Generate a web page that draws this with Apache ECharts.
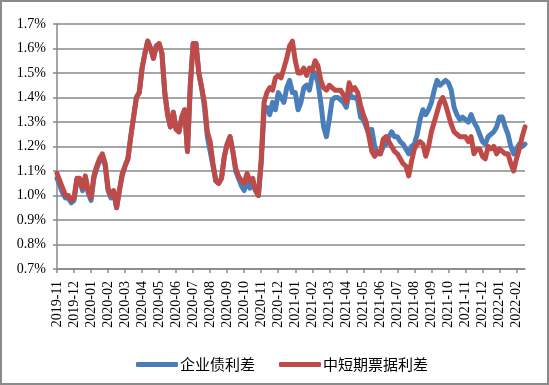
<!DOCTYPE html>
<html>
<head>
<meta charset="utf-8">
<script src="https://cdn.jsdelivr.net/npm/echarts@6/dist/echarts.min.js"></script>
<style>
html,body{margin:0;padding:0;background:#fff;}
#c{width:549px;height:385px;}
</style>
</head>
<body>
<div id="c"></div>
<script>
// Month tick labels (one label every 6 sampled points)
var months = ['2019-11','2019-12','2020-01','2020-02','2020-03','2020-04','2020-05','2020-06','2020-07','2020-08','2020-09','2020-10','2020-11','2020-12','2021-01','2021-02','2021-03','2021-04','2021-05','2021-06','2021-07','2021-08','2021-09','2021-10','2021-11','2021-12','2022-01','2022-02'];
var pointsPerMonth = 6;
var seriesNames = ['企业债利差','中短期票据利差'];

// 企业债利差 (%)
var corpBond = [
1.07,1.04,1.01,0.99,0.99,0.97,
0.98,1.06,1.06,1.02,1.07,1.01,
0.98,1.07,1.11,1.14,1.16,1.12,
1.02,0.99,1.01,0.95,1.02,1.08,
1.12,1.15,1.24,1.32,1.40,1.42,
1.52,1.58,1.63,1.60,1.56,1.61,
1.62,1.58,1.42,1.33,1.28,1.34,
1.27,1.26,1.32,1.35,1.18,1.45,
1.62,1.62,1.50,1.44,1.36,1.24,
1.18,1.12,1.06,1.05,1.07,1.16,
1.21,1.24,1.18,1.10,1.07,1.04,
1.02,1.06,1.03,1.05,1.02,1.00,
1.13,1.34,1.36,1.33,1.38,1.35,
1.42,1.40,1.38,1.44,1.47,1.42,
1.42,1.35,1.38,1.44,1.45,1.43,
1.49,1.50,1.46,1.38,1.28,1.24,
1.31,1.39,1.40,1.40,1.39,1.38,
1.36,1.42,1.40,1.40,1.39,1.32,
1.31,1.28,1.25,1.27,1.20,1.17,
1.17,1.20,1.21,1.24,1.26,1.24,
1.24,1.22,1.21,1.19,1.17,1.20,
1.21,1.25,1.31,1.35,1.33,1.35,
1.38,1.43,1.47,1.45,1.46,1.47,
1.46,1.43,1.36,1.33,1.31,1.32,
1.31,1.30,1.33,1.30,1.28,1.25,
1.22,1.21,1.24,1.25,1.26,1.28,
1.32,1.32,1.28,1.25,1.20,1.17,
1.19,1.21,1.20,1.21
];

// 中短期票据利差 (%)
var mtnNote = [
1.09,1.06,1.03,1.00,1.00,0.98,
0.99,1.07,1.07,1.03,1.08,1.02,
0.99,1.08,1.12,1.15,1.17,1.13,
1.03,1.00,1.02,0.95,1.02,1.09,
1.12,1.15,1.24,1.32,1.40,1.42,
1.52,1.58,1.63,1.60,1.56,1.61,
1.62,1.58,1.42,1.33,1.28,1.34,
1.27,1.26,1.32,1.35,1.18,1.45,
1.62,1.62,1.50,1.44,1.38,1.26,
1.22,1.13,1.06,1.05,1.07,1.16,
1.21,1.24,1.18,1.11,1.08,1.06,
1.05,1.09,1.06,1.07,1.02,1.00,
1.15,1.38,1.42,1.44,1.43,1.48,
1.49,1.48,1.52,1.56,1.61,1.63,
1.55,1.50,1.50,1.52,1.49,1.52,
1.51,1.55,1.53,1.47,1.44,1.43,
1.45,1.44,1.43,1.43,1.43,1.41,
1.38,1.46,1.43,1.44,1.42,1.37,
1.33,1.30,1.24,1.18,1.16,1.18,
1.17,1.23,1.24,1.22,1.20,1.18,
1.17,1.15,1.13,1.12,1.08,1.14,
1.19,1.21,1.22,1.21,1.16,1.20,
1.26,1.30,1.34,1.38,1.40,1.37,
1.33,1.29,1.26,1.25,1.24,1.24,
1.24,1.22,1.24,1.17,1.19,1.19,
1.16,1.15,1.20,1.19,1.20,1.17,
1.19,1.18,1.17,1.17,1.13,1.10,
1.15,1.19,1.24,1.28
];

var categories = corpBond.map(function(_, i){
  return months[Math.floor(i / pointsPerMonth)] + '#' + (i % pointsPerMonth);
});
function isMonthStart(i){ return i % pointsPerMonth === 0; }

var chart = echarts.init(document.getElementById('c'), null, {renderer:'canvas'});
var gridColor = '#888888';
chart.setOption({
  animation: false,
  backgroundColor: '#ffffff',
  graphic: [{
    type: 'rect',
    shape: {x: 1, y: 1, width: 547, height: 383},
    style: {fill: 'none', stroke: '#8a8a8a', lineWidth: 2},
    silent: true
  }],
  grid: {left: 57, right: 24, top: 24, bottom: 116, containLabel: false},
  legend: {
    data: seriesNames,
    left: 131,
    top: 352,
    itemWidth: 42,
    itemHeight: 5,
    itemGap: 24,
    icon: 'roundRect',
    textStyle: {fontFamily: 'Noto Sans CJK SC', fontSize: 15, color: '#000', padding: [0,0,0,-3]}
  },
  xAxis: {
    type: 'category',
    data: categories,
    boundaryGap: false,
    axisLine: {show: true, lineStyle: {color: gridColor, width: 1.5}},
    axisTick: {show: true, interval: function(i){ return isMonthStart(i); }, length: 4, lineStyle: {color: gridColor, width: 1.5}},
    axisLabel: {
      interval: function(i){ return isMonthStart(i); },
      rotate: 90,
      margin: 12,
      fontFamily: 'Liberation Serif',
      fontSize: 14,
      color: '#000',
      formatter: function(v){ return v.split('#')[0]; }
    },
    splitLine: {show: false}
  },
  yAxis: {
    type: 'value',
    min: 0.7,
    max: 1.7,
    interval: 0.1,
    axisLine: {show: true, lineStyle: {color: gridColor, width: 1.5}},
    axisTick: {show: true, length: 4, lineStyle: {color: gridColor, width: 1.5}},
    axisLabel: {
      margin: 11,
      fontFamily: 'Liberation Serif',
      fontSize: 14,
      color: '#000',
      formatter: function(v){ return v.toFixed(1) + '%'; }
    },
    splitLine: {show: true, lineStyle: {color: gridColor, width: 1.5}}
  },
  series: [
    {
      name: seriesNames[0],
      type: 'line',
      data: corpBond,
      showSymbol: false,
      symbol: 'none',
      lineStyle: {color: '#4A7EBB', width: 5, join: 'round', cap: 'round'},
      itemStyle: {color: '#4A7EBB'},
      z: 2
    },
    {
      name: seriesNames[1],
      type: 'line',
      data: mtnNote,
      showSymbol: false,
      symbol: 'none',
      lineStyle: {color: '#BE4B48', width: 5, join: 'round', cap: 'round'},
      itemStyle: {color: '#BE4B48'},
      z: 3
    }
  ]
});
</script>
</body>
</html>
